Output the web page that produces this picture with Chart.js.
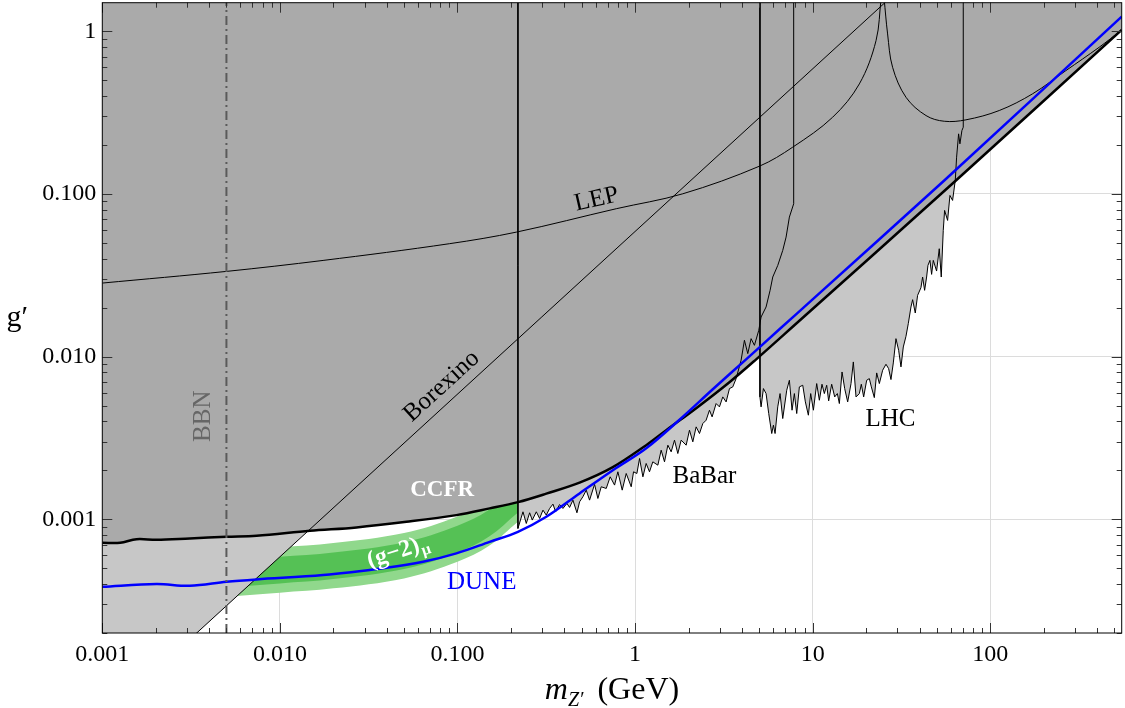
<!DOCTYPE html>
<html>
<head>
<meta charset="utf-8">
<script src="https://cdn.jsdelivr.net/npm/chart.js@4.4.1/dist/chart.umd.min.js"></script>
<style>
  html, body { margin: 0; padding: 0; background: #fff; }
  #wrap { width: 1125px; height: 708px; }
</style>
</head>
<body>
<div id="wrap"><canvas id="c" width="1125" height="708"></canvas></div>
<script>
// ---- axis ticks ----
const xTickValues = [0.001, 0.01, 0.1, 1, 10, 100];
const xTickLabels = ['0.001', '0.010', '0.100', '1', '10', '100'];
const yTickValues = [0.001, 0.01, 0.1, 1];
const yTickLabels = ['0.001', '0.010', '0.100', '1'];

// ---- combined CCFR / upper bound (thick black) : m_Z' [GeV], g' ----
const ccfrM = [0.001, 0.00126, 0.00156, 0.00202, 0.00311, 0.00501, 0.00739, 0.01475, 0.027, 0.0516, 0.0986, 0.1518, 0.219, 0.3165, 0.487, 0.750, 1.156, 1.498, 2.21, 3.40, 4.81, 7.72, 64.1, 550];
const ccfrG = [7.17e-4, 7.17e-4, 7.55e-4, 7.48e-4, 7.63e-4, 7.81e-4, 7.92e-4, 8.50e-4, 8.92e-4, 9.65e-4, 1.061e-3, 1.167e-3, 1.275e-3, 1.438e-3, 1.680e-3, 2.092e-3, 2.856e-3, 3.53e-3, 4.82e-3, 6.96e-3, 9.63e-3, 0.01526, 0.1211, 1.02];

// ---- DUNE sensitivity (blue) ----
const duneM = [0.001, 0.00202, 0.00311, 0.00501, 0.00739, 0.01752, 0.0398, 0.064, 0.0986, 0.1518, 0.219, 0.3165, 0.487, 0.750, 1.156, 1.78, 2.74, 4.22, 6.50, 10.0, 55.1, 550];
const duneG = [3.85e-4, 4.0e-4, 3.90e-4, 4.13e-4, 4.27e-4, 4.54e-4, 5.04e-4, 5.48e-4, 6.17e-4, 7.27e-4, 8.38e-4, 1.036e-3, 1.443e-3, 2.005e-3, 2.736e-3, 4.095e-3, 6.30e-3, 9.63e-3, 0.01473, 0.02251, 0.1211, 1.233];

// ---- LEP bound, two branches around the pole ----
const lepLowM = [0.001, 0.00501, 0.01751, 0.0904, 0.2145, 0.784, 1.857, 5.02, 7.72, 12.96, 18.32, 22.75, 24.3];
const lepLowG = [0.02834, 0.03344, 0.03905, 0.0495, 0.0583, 0.0812, 0.1003, 0.1483, 0.194, 0.2964, 0.475, 0.877, 1.6];
const lepHighM = [25.25, 26.43, 28.2, 33.56, 43.5, 55.1, 73.0, 112.4, 173, 266.7, 410.5, 550];
const lepHighG = [1.6, 0.964, 0.601, 0.393, 0.3035, 0.280, 0.2857, 0.326, 0.4127, 0.5736, 0.798, 1.02];

// ---- Borexino (straight in log-log) ----
const borexinoM = [0.001, 30];
const borexinoG = [5.88e-5, 1.764];

// ---- BaBar 4mu bound ----
const babarM = [0.219, 0.219, 0.2338, 0.2441, 0.2549, 0.2638, 0.2779, 0.2902, 0.3030, 0.3163, 0.3303, 0.3449, 0.3570, 0.3759, 0.3925, 0.4133, 0.4279, 0.4468, 0.4707, 0.4872, 0.5085, 0.5311, 0.5545, 0.5916, 0.6176, 0.6450, 0.6882, 0.7245, 0.7667, 0.8003, 0.8466, 0.8916, 0.9513, 0.9806, 1.024, 1.060, 1.107, 1.155, 1.206, 1.259, 1.344, 1.403, 1.465, 1.530, 1.597, 1.668, 1.741, 1.818, 1.940, 2.025, 2.115, 2.208, 2.306, 2.407, 2.513, 2.624, 2.716, 2.861, 2.987, 3.119, 3.257, 3.401, 3.550, 3.708, 3.954, 4.130, 4.313, 4.503, 4.701, 4.974, 5.125, 5.467, 5.759, 5.963, 6.363, 6.786, 7.088, 7.397, 7.82, 7.82];
const babarG = [1.5, 8.79e-4, 1.112e-3, 9.43e-4, 1.097e-3, 9.89e-4, 1.112e-3, 1.012e-3, 1.139e-3, 1.061e-3, 1.166e-3, 1.240e-3, 1.112e-3, 1.232e-3, 1.166e-3, 1.252e-3, 1.183e-3, 1.312e-3, 1.097e-3, 1.282e-3, 1.376e-3, 1.511e-3, 1.312e-3, 1.641e-3, 1.343e-3, 1.585e-3, 1.548e-3, 1.825e-3, 1.623e-3, 1.959e-3, 1.511e-3, 1.913e-3, 1.585e-3, 1.959e-3, 1.913e-3, 2.365e-3, 1.825e-3, 2.204e-3, 1.959e-3, 2.256e-3, 2.152e-3, 2.661e-3, 2.256e-3, 2.856e-3, 2.599e-3, 3.066e-3, 2.538e-3, 3.066e-3, 2.856e-3, 3.531e-3, 2.994e-3, 3.701e-3, 3.368e-3, 3.879e-3, 4.067e-3, 4.685e-3, 4.264e-3, 5.148e-3, 4.911e-3, 5.657e-3, 5.270e-3, 6.365e-3, 6.516e-3, 7.331e-3, 9.50e-3, 0.01261, 0.01044, 0.01290, 0.01174, 0.01452, 0.01753, 0.0202, 0.02556, 0.03087, 0.0364, 0.0450, 0.05433, 0.0721, 0.0871, 1.5];

// ---- LHC bound ----
const lhcM = [5.05, 5.05, 5.125, 5.282, 5.467, 5.659, 5.884, 6.013, 6.144, 6.36, 6.556, 6.786, 7.147, 7.397, 7.656, 7.891, 8.135, 8.42, 8.795, 9.101, 9.462, 9.752, 10.10, 10.54, 10.91, 11.29, 11.64, 12.0, 12.31, 12.8, 13.31, 13.78, 14.14, 14.64, 15.15, 15.75, 16.45, 16.95, 17.55, 18.32, 18.8, 19.38, 20.15, 20.86, 21.41, 22.25, 22.94, 23.75, 24.79, 25.88, 26.79, 27.61, 28.46, 29.46, 30.5, 31.44, 32.4, 33.54, 34.56, 35.78, 36.56, 37.84, 39.0, 40.73, 41.62, 42.71, 43.84, 44.6, 45.77, 46.77, 47.8, 49.89, 51.64, 53.0, 54.39, 55.35, 57.54, 59.31, 61.39, 63.55, 64.66, 66.37, 67.5, 69.27, 70.5, 70.5];
const lhcG = [1.5, 5.655e-3, 4.911e-3, 6.365e-3, 5.93e-3, 4.47e-3, 3.368e-3, 3.79e-3, 3.368e-3, 4.911e-3, 5.93e-3, 4.164e-3, 6.216e-3, 7.16e-3, 4.685e-3, 5.93e-3, 4.47e-3, 6.516e-3, 6.672e-3, 5.27e-3, 4.365e-3, 5.93e-3, 4.685e-3, 6.831e-3, 5.395e-3, 6.767e-3, 5.93e-3, 6.672e-3, 5.345e-3, 6.767e-3, 5.655e-3, 5.93e-3, 5.148e-3, 8.05e-3, 6.365e-3, 5.27e-3, 6.831e-3, 9.28e-3, 5.655e-3, 5.93e-3, 6.767e-3, 5.655e-3, 7.16e-3, 7.33e-3, 6.516e-3, 5.6e-3, 7.943e-3, 6.831e-3, 8.25e-3, 8.98e-3, 8.44e-3, 7.23e-3, 9.15e-3, 0.0129, 0.01094, 8.65e-3, 0.01147, 0.01334, 0.01595, 0.0202, 0.0224, 0.01855, 0.02381, 0.02655, 0.03087, 0.02557, 0.03087, 0.0364, 0.03907, 0.03205, 0.03907, 0.0336, 0.04608, 0.03087, 0.05971, 0.07925, 0.06879, 0.09795, 0.09129, 0.1211, 0.1684, 0.2343, 0.2034, 0.2456, 0.2574, 1.5];

// ---- (g-2)_mu bands: 2 sigma (outer) and 1 sigma (inner) ----
const g2M = [0.005, 0.01, 0.02, 0.05, 0.1, 0.15, 0.219];
const g2OuterLow = [3.343e-4, 3.538e-4, 3.762e-4, 4.332e-4, 5.484e-4, 6.844e-4, 9.656e-4];
const g2OuterHigh = [6.35e-4, 6.718e-4, 7.142e-4, 8.226e-4, 1.041e-3, 1.299e-3, 1.834e-3];
const g2InnerLow = [3.816e-4, 4.037e-4, 4.291e-4, 4.944e-4, 6.258e-4, 7.808e-4, 1.102e-3];
const g2InnerHigh = [5.562e-4, 5.886e-4, 6.258e-4, 7.210e-4, 9.127e-4, 1.139e-3, 1.606e-3];

// ---- BBN limit ----
const bbnM = [0.005, 0.005];
const bbnG = [2e-4, 1.5];

// ---- styling ----
const FONT = '"Liberation Serif", "DejaVu Serif", serif';
const DARK = '#aaaaaa';
const LIGHT = '#c7c7c7';
const LGREEN = '#90d88c';
const DGREEN = '#55c155';
const BLUE = '#0000ff';

const pts = (ms, gs) => ms.map((m, i) => ({ x: m, y: gs[i] }));
const base = { showLine: true, pointRadius: 0, pointHoverRadius: 0, borderWidth: 0, borderColor: 'transparent', fill: false, tension: 0 };
const smooth = { tension: 0.35 };

const datasets = [
  /* 0 */ { ...base, data: pts(babarM, babarG), fill: 'end', backgroundColor: LIGHT, order: 100 },
  /* 1 */ { ...base, data: pts(lhcM, lhcG), fill: 'end', backgroundColor: LIGHT, order: 99 },
  /* 2 */ { ...base, ...smooth, data: pts(g2M, g2OuterLow), order: 98 },
  /* 3 */ { ...base, ...smooth, data: pts(g2M, g2OuterHigh), fill: 2, backgroundColor: LGREEN, order: 97 },
  /* 4 */ { ...base, ...smooth, data: pts(g2M, g2InnerLow), order: 96 },
  /* 5 */ { ...base, ...smooth, data: pts(g2M, g2InnerHigh), fill: 4, backgroundColor: DGREEN, order: 95 },
  /* 6 */ { ...base, data: pts(borexinoM, borexinoG), fill: 'end', backgroundColor: LIGHT, order: 94 },
  /* 7 */ { ...base, ...smooth, data: pts(ccfrM, ccfrG), fill: 'end', backgroundColor: DARK, order: 90 },
  /* 8 */ { ...base, ...smooth, data: pts(lepLowM, lepLowG), borderWidth: 1, borderColor: '#000', order: 20 },
  /* 9 */ { ...base, ...smooth, data: pts(lepHighM, lepHighG), borderWidth: 1, borderColor: '#000', order: 20 },
  /* 10 */ { ...base, data: pts(borexinoM, borexinoG), borderWidth: 1, borderColor: '#000', order: 19 },
  /* 11 */ { ...base, data: pts(babarM, babarG), borderWidth: 1, borderColor: '#000', order: 18 },
  /* 12 */ { ...base, data: pts(lhcM, lhcG), borderWidth: 1, borderColor: '#000', order: 17 },
  /* 13 */ { ...base, ...smooth, data: pts(ccfrM, ccfrG), borderWidth: 2.5, borderColor: '#000', order: 3 },
  /* 14 */ { ...base, ...smooth, data: pts(duneM, duneG), borderWidth: 2.5, borderColor: BLUE, order: 2 },
  /* 15 */ { ...base, data: pts(bbnM, bbnG), borderWidth: 2, borderColor: '#5a5a5a', borderDash: [9, 4, 2, 4], order: 1 }
];

// region labels anchored in (m, g) coordinates
const regionLabels = [
  { text: 'LEP', m: 0.607, g: 0.0926, angle: -13, color: '#000', font: '25px ' + FONT },
  { text: 'Borexino', m: 0.0815, g: 6.58e-3, angle: -42.4, color: '#000', font: '25px ' + FONT },
  { text: 'BBN', m: 0.00369, g: 4.30e-3, angle: -90, color: '#666666', font: '25px ' + FONT },
  { text: 'CCFR', m: 0.082, g: 1.511e-3, angle: 0, color: '#ffffff', font: 'bold 23px ' + FONT },
  { text: 'DUNE', m: 0.1369, g: 4.085e-4, angle: 0, color: BLUE, font: '25px ' + FONT },
  { text: 'BaBar', m: 2.46, g: 1.842e-3, angle: 0, color: '#000', font: '25px ' + FONT },
  { text: 'LHC', m: 27.4, g: 4.125e-3, angle: 0, color: '#000', font: '25px ' + FONT }
];
const g2Label = { m: 0.0461, g: 6.29e-4, angle: -18 };

const framePlugin = {
  id: 'framePlugin',
  beforeDraw(chart) {
    const ctx = chart.ctx;
    ctx.save();
    ctx.fillStyle = '#ffffff';
    ctx.fillRect(0, 0, chart.width, chart.height);
    ctx.restore();
  },
  afterDatasetsDraw(chart) {
    const { ctx, chartArea: a, scales: { x, y } } = chart;
    ctx.save();
    ctx.strokeStyle = '#333';
    ctx.lineWidth = 1;
    ctx.beginPath();
    for (let d = -3; d <= 2; d++) {
      for (let k = 1; k <= 9; k++) {
        const v = k * Math.pow(10, d);
        if (v < x.min * 0.999 || v > x.max) continue;
        const px = Math.round(x.getPixelForValue(v)) + 0.5;
        const len = k === 1 ? 10 : 5;
        ctx.moveTo(px, a.bottom); ctx.lineTo(px, a.bottom - len);
        ctx.moveTo(px, a.top); ctx.lineTo(px, a.top + len);
      }
    }
    for (let d = -4; d <= 0; d++) {
      for (let k = 1; k <= 9; k++) {
        const v = k * Math.pow(10, d);
        if (v < y.min * 0.999 || v > y.max) continue;
        const py = Math.round(y.getPixelForValue(v)) + 0.5;
        const len = k === 1 ? 10 : 5;
        ctx.moveTo(a.left, py); ctx.lineTo(a.left + len, py);
        ctx.moveTo(a.right, py); ctx.lineTo(a.right - len, py);
      }
    }
    ctx.stroke();
    ctx.strokeStyle = '#000';
    ctx.strokeRect(a.left, a.top, a.right - a.left, a.bottom - a.top);
    ctx.restore();
  },
  afterDraw(chart) {
    const { ctx, chartArea: a, scales: { x, y } } = chart;
    ctx.save();
    ctx.textAlign = 'center';
    ctx.textBaseline = 'middle';
    for (const L of regionLabels) {
      ctx.save();
      ctx.translate(x.getPixelForValue(L.m), y.getPixelForValue(L.g));
      ctx.rotate(L.angle * Math.PI / 180);
      ctx.font = L.font;
      ctx.fillStyle = L.color;
      ctx.fillText(L.text, 0, 0);
      ctx.restore();
    }
    // (g-2)_mu with subscript
    ctx.save();
    ctx.translate(x.getPixelForValue(g2Label.m), y.getPixelForValue(g2Label.g));
    ctx.rotate(g2Label.angle * Math.PI / 180);
    ctx.fillStyle = '#ffffff';
    ctx.textAlign = 'left';
    ctx.font = 'bold 24px ' + FONT;
    const w1 = ctx.measureText('(g\u22122)').width;
    ctx.font = 'bold 16px ' + FONT;
    const w2 = ctx.measureText('\u03bc').width;
    const x0 = -(w1 + w2) / 2;
    ctx.font = 'bold 24px ' + FONT;
    ctx.fillText('(g\u22122)', x0, 0);
    ctx.font = 'bold 16px ' + FONT;
    ctx.fillText('\u03bc', x0 + w1 + 1, 7);
    ctx.restore();

    // axis titles
    ctx.fillStyle = '#000';
    ctx.textAlign = 'left';
    ctx.textBaseline = 'alphabetic';
    const cx = (a.left + a.right) / 2;
    const baseY = a.bottom + 66;
    ctx.font = 'italic 32px ' + FONT;
    const wm = ctx.measureText('m').width;
    ctx.font = 'italic 20px ' + FONT;
    const wz = ctx.measureText('Z\u2032').width;
    ctx.font = '32px ' + FONT;
    const wg = ctx.measureText('(GeV)').width;
    const gap = 14;
    let tx = cx - (wm + wz + gap + wg) / 2;
    ctx.font = 'italic 32px ' + FONT;
    ctx.fillText('m', tx, baseY);
    tx += wm;
    ctx.font = 'italic 20px ' + FONT;
    ctx.fillText('Z\u2032', tx, baseY + 7);
    tx += wz + gap;
    ctx.font = '32px ' + FONT;
    ctx.fillText('(GeV)', tx, baseY);

    ctx.textAlign = 'center';
    ctx.textBaseline = 'middle';
    ctx.font = '30px ' + FONT;
    ctx.fillText('g\u2032', a.left - 85, (a.top + a.bottom) / 2);
    ctx.restore();
  }
};

Chart.defaults.font.family = FONT;

new Chart(document.getElementById('c'), {
  type: 'scatter',
  data: { datasets },
  options: {
    responsive: false,
    animation: false,
    events: [],
    layout: { padding: { left: 0, right: 3.3, top: 2.7, bottom: 0 } },
    plugins: { legend: { display: false }, tooltip: { enabled: false } },
    scales: {
      x: {
        type: 'logarithmic',
        min: 0.001,
        max: 550,
        afterBuildTicks: s => { s.ticks = xTickValues.map(v => ({ value: v, major: true })); },
        afterFit: s => { s.height = 75; s.paddingLeft = 0; s.paddingRight = 0; },
        ticks: {
          autoSkip: false, maxRotation: 0, minRotation: 0, padding: 7,
          color: '#000', font: { size: 24, family: FONT },
          callback: (v, i) => xTickLabels[i]
        },
        grid: { color: '#dcdcdc', lineWidth: 1, drawTicks: false },
        border: { display: false }
      },
      y: {
        type: 'logarithmic',
        min: 2e-4,
        max: 1.5,
        afterBuildTicks: s => { s.ticks = yTickValues.map(v => ({ value: v, major: true })); },
        afterFit: s => { s.width = 102.3; s.paddingTop = 0; s.paddingBottom = 0; },
        ticks: {
          autoSkip: false, padding: 6,
          color: '#000', font: { size: 24, family: FONT },
          callback: (v, i) => yTickLabels[i]
        },
        grid: { color: '#dcdcdc', lineWidth: 1, drawTicks: false },
        border: { display: false }
      }
    }
  },
  plugins: [framePlugin]
});
</script>
</body>
</html>
